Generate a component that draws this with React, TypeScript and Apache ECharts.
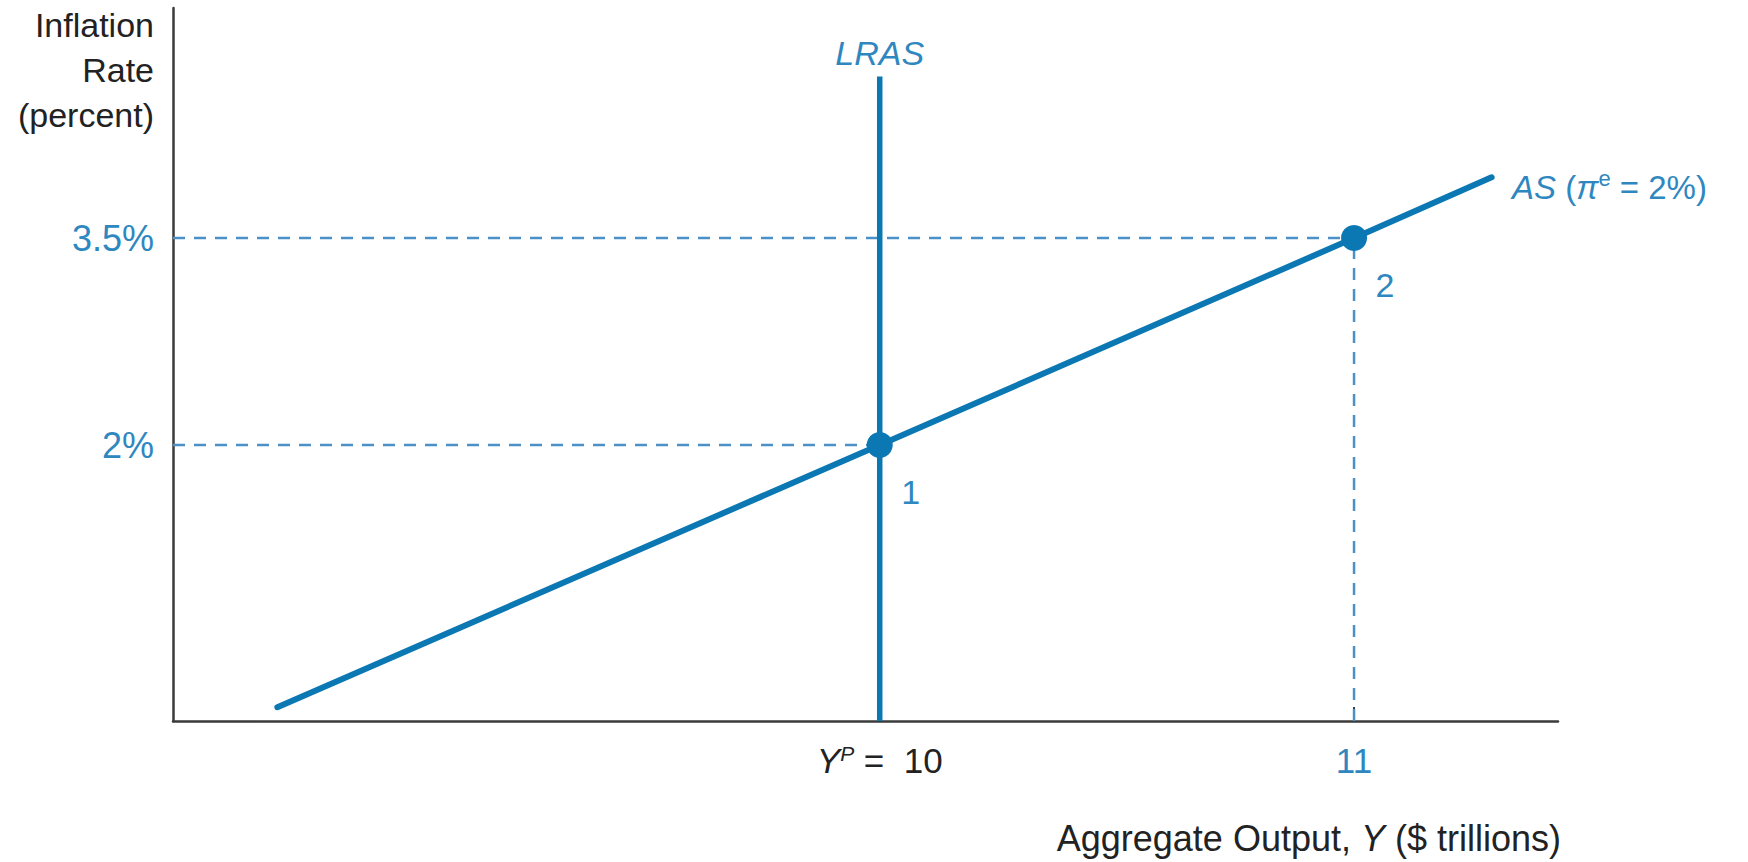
import React, { useEffect, useRef } from "react";
import * as echarts from "echarts";

// ---- data ----
const xRange = [8.51, 11.43];
const yRange = [0, 5.167];
const asCurve: number[][] = [
  [8.73, 0.1],
  [10, 2],
  [11, 3.5],
  [11.29, 3.94],
];
const lrasLine: number[][] = [
  [10, 0],
  [10, 4.67],
];
const equilibria: { x: number; y: number; name: string }[] = [
  { x: 10, y: 2, name: "1" },
  { x: 11, y: 3.5, name: "2" },
];
const xTickValues = [10, 11];
const yTickValues = [2, 3.5];

const FONT = "'Liberation Sans', Arial, Helvetica, sans-serif";
const LINE_BLUE = "#0b78b3";
const TEXT_BLUE = "#2f87c0";
const DASH_BLUE = "#4b90c6";

export default function App() {
  const ref = useRef<HTMLDivElement>(null);

  useEffect(() => {
    if (!ref.current) return;
    const chart = echarts.init(ref.current, null, { renderer: "svg" });

    const dashStyle = { color: DASH_BLUE, width: 2.5, type: [12, 9] as number[] };

    const dashedSeries: any[] = [];
    equilibria.forEach((p, i) => {
      dashedSeries.push({
        type: "line",
        name: "guideH" + i,
        data: [
          [xRange[0], p.y],
          [p.x, p.y],
        ],
        symbol: "none",
        lineStyle: dashStyle,
        z: 1,
        silent: true,
      });
    });
    dashedSeries.push({
      type: "line",
      name: "guideV",
      data: [
        [equilibria[1].x, yRange[0]],
        [equilibria[1].x, equilibria[1].y],
      ],
      symbol: "none",
      lineStyle: dashStyle,
      z: 1,
      silent: true,
    });

    const option: any = {
      animation: false,
      backgroundColor: "#ffffff",
      textStyle: { fontFamily: FONT },
      grid: {
        left: 173,
        right: 190,
        top: 8,
        bottom: 141,
        containLabel: false,
        outerBoundsMode: "none",
      },
      xAxis: {
        type: "value",
        min: xRange[0],
        max: xRange[1],
        splitLine: { show: false },
        axisLine: { show: true, lineStyle: { color: "#3a3a3a", width: 2.5 } },
        axisTick: {
          show: true,
          inside: true,
          length: 14,
          customValues: [11],
          lineStyle: { color: "#3a3a3a", width: 2 },
        },
        axisLabel: {
          show: true,
          customValues: xTickValues,
          margin: 22,
          fontFamily: FONT,
          fontSize: 35,
          formatter: (v: number) =>
            v === 10 ? "{i|Y}{sup|P}{n| =  10}" : "{b|" + v + "}",
          rich: {
            i: { fontSize: 35, fontStyle: "italic", color: "#222", fontFamily: FONT },
            sup: {
              fontSize: 21,
              fontStyle: "italic",
              color: "#222",
              fontFamily: FONT,
              verticalAlign: "top",
              padding: [0, 0, 14, 0],
            },
            n: { fontSize: 35, color: "#222", fontFamily: FONT },
            b: { fontSize: 35, color: TEXT_BLUE, fontFamily: FONT },
          },
        },
      },
      yAxis: {
        type: "value",
        min: yRange[0],
        max: yRange[1],
        splitLine: { show: false },
        axisLine: { show: true, lineStyle: { color: "#3a3a3a", width: 2.5 } },
        axisTick: { show: false },
        axisLabel: {
          show: true,
          customValues: yTickValues,
          margin: 19,
          fontFamily: FONT,
          fontSize: 36,
          color: TEXT_BLUE,
          formatter: (v: number) => v + "%",
        },
      },
      series: [
        ...dashedSeries,
        {
          type: "line",
          name: "AS",
          data: asCurve,
          symbol: "none",
          showSymbol: false,
          lineStyle: { color: LINE_BLUE, width: 6, cap: "round" },
          z: 3,
          markPoint: {
            symbol: "circle",
            symbolSize: 1,
            itemStyle: { color: "rgba(0,0,0,0)" },
            silent: true,
            data: [
              {
                coord: asCurve[asCurve.length - 1],
                label: {
                  show: true,
                  position: "right",
                  distance: 20,
                  offset: [0, 10],
                  formatter: "{i|AS} ({p|π}{sup|e} = 2%)",
                  rich: {
                    i: { fontSize: 33, fontStyle: "italic", color: TEXT_BLUE, fontFamily: FONT },
                    p: { fontSize: 33, fontStyle: "italic", color: TEXT_BLUE, fontFamily: FONT },
                    sup: {
                      fontSize: 22,
                      color: TEXT_BLUE,
                      fontFamily: FONT,
                      verticalAlign: "top",
                      padding: [0, 0, 18, 0],
                    },
                  },
                  color: TEXT_BLUE,
                  fontSize: 33,
                  fontFamily: FONT,
                },
              },
            ],
          },
        },
        {
          type: "line",
          name: "LRAS",
          data: lrasLine,
          symbol: "none",
          showSymbol: false,
          lineStyle: { color: LINE_BLUE, width: 5.5 },
          z: 3,
          markPoint: {
            symbol: "circle",
            symbolSize: 1,
            itemStyle: { color: "rgba(0,0,0,0)" },
            silent: true,
            data: [
              {
                coord: lrasLine[lrasLine.length - 1],
                label: {
                  show: true,
                  position: "top",
                  distance: 6,
                  formatter: "LRAS",
                  fontSize: 34,
                  fontStyle: "italic",
                  color: TEXT_BLUE,
                  fontFamily: FONT,
                },
              },
            ],
          },
        },
        {
          type: "scatter",
          name: "equilibria",
          data: equilibria.map((p) => ({ value: [p.x, p.y], name: p.name })),
          symbol: "circle",
          symbolSize: 26,
          itemStyle: { color: LINE_BLUE, opacity: 1 },
          label: {
            show: true,
            position: "bottom",
            distance: 5,
            offset: [31, 12],
            formatter: (p: any) => p.name,
            fontSize: 34,
            color: TEXT_BLUE,
            fontFamily: FONT,
          },
          z: 4,
        },
      ],
      graphic: [
        {
          type: "text",
          x: 154,
          y: 2,
          style: {
            text: "Inflation\nRate\n(percent)",
            align: "right",
            verticalAlign: "top",
            fontSize: 34,
            lineHeight: 45,
            fill: "#222",
            fontFamily: FONT,
          },
        },
        {
          type: "text",
          x: 1561,
          y: 838,
          style: {
            text: "Aggregate Output, {i|Y} ($ trillions)",
            align: "right",
            verticalAlign: "middle",
            fontSize: 36,
            fill: "#222",
            fontFamily: FONT,
            rich: {
              i: { fontSize: 36, fontStyle: "italic", fill: "#222", fontFamily: FONT },
            },
          },
        },
      ],
    };

    chart.setOption(option);
    return () => chart.dispose();
  }, []);

  return (
    <div
      ref={ref}
      style={{ position: "fixed", left: 0, top: 0, width: 1748, height: 862 }}
    />
  );
}
